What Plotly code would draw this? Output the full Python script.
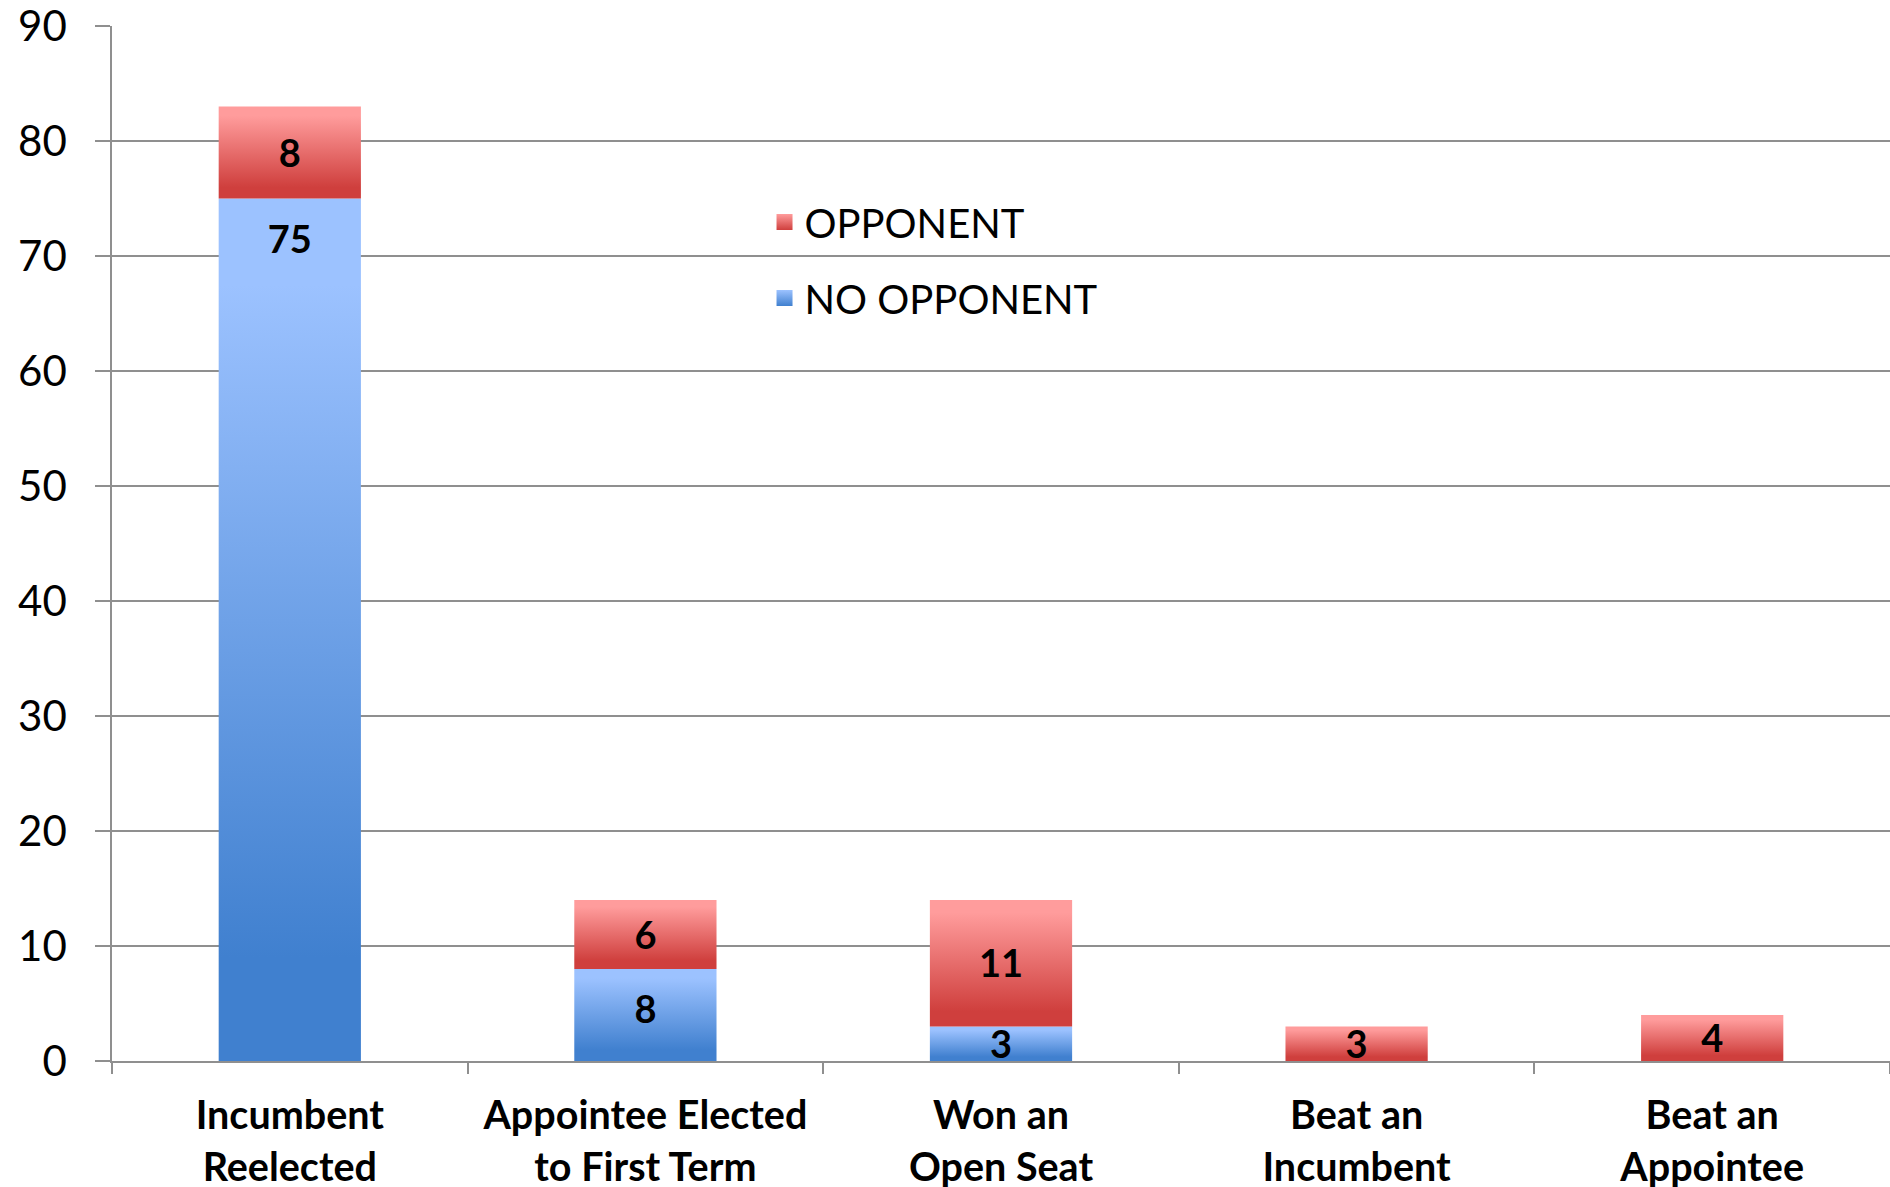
import plotly.graph_objects as go

# ---- data ----
categories = [
    "Incumbent<br>Reelected",
    "Appointee Elected<br>to First Term",
    "Won an<br>Open Seat",
    "Beat an<br>Incumbent",
    "Beat an<br>Appointee",
]
no_opponent = [75, 8, 3, 0, 0]
opponent = [8, 6, 11, 3, 4]
y_tick_values = [0, 10, 20, 30, 40, 50, 60, 70, 80, 90]

# ---- style ----
BAR_WIDTH = 0.40
LABEL_INSET = 3.5          # "inside end" label offset, axis units
LABEL_NUDGE = 0.4          # optical centring of bold digits, axis units
GRID = "#8f8f8f"
FONT = "Lato"
RED_LIGHT, RED_DARK = "#ff9c9c", "#cf3f3d"
BLUE_LIGHT, BLUE_DARK = "#9cc2ff", "#4080cf"


def grad(dark, light):
    return [[0, dark], [0.12, dark], [0.9, light], [1, light]]


fig = go.Figure()
positions = list(range(len(categories)))


def add_segment(i, base, value, dark, light):
    x0, x1 = i - BAR_WIDTH / 2, i + BAR_WIDTH / 2
    top = base + value
    fig.add_trace(go.Scatter(
        x=[x0, x1, x1, x0, x0],
        y=[base, base, top, top, base],
        mode="lines", line=dict(width=0), fill="toself",
        fillcolor=dark,
        fillgradient=dict(type="vertical", colorscale=grad(dark, light)),
        showlegend=False, hoverinfo="skip",
    ))


blue_lx, blue_ly, blue_lt = [], [], []
red_lx, red_ly, red_lt = [], [], []
for i, (b, r) in enumerate(zip(no_opponent, opponent)):
    if b > 0:
        add_segment(i, 0, b, BLUE_DARK, BLUE_LIGHT)
        blue_lx.append(i)
        blue_ly.append(max(b / 2, b - LABEL_INSET) - LABEL_NUDGE)
        blue_lt.append(str(b))
    if r > 0:
        add_segment(i, b, r, RED_DARK, RED_LIGHT)
        red_lx.append(i)
        red_ly.append(b + r / 2 - LABEL_NUDGE)
        red_lt.append(str(r))

label_font = dict(family=FONT, size=38, color="black")
fig.add_trace(go.Scatter(x=blue_lx, y=blue_ly, text=[f"<b>{t}</b>" for t in blue_lt],
                         mode="text", textposition="middle center", textfont=label_font,
                         showlegend=False, hoverinfo="skip"))
fig.add_trace(go.Scatter(x=red_lx, y=red_ly, text=[f"<b>{t}</b>" for t in red_lt],
                         mode="text", textposition="middle center", textfont=label_font,
                         showlegend=False, hoverinfo="skip"))

# legend entries
fig.add_trace(go.Scatter(x=[None], y=[None], mode="markers", name="OPPONENT",
                         marker=dict(symbol="square", size=27, color=RED_LIGHT,
                                     gradient=dict(type="vertical", color=RED_DARK)),
                         legendgroup="opp"))
fig.add_trace(go.Scatter(x=[None], y=[None], mode="markers", name="NO OPPONENT",
                         marker=dict(symbol="square", size=27, color=BLUE_LIGHT,
                                     gradient=dict(type="vertical", color=BLUE_DARK)),
                         legendgroup="noopp"))

boundaries = [p - 0.5 for p in positions] + [positions[-1] + 0.5]

fig.update_layout(
    width=1890, height=1187,
    margin=dict(l=112, r=0, t=26, b=126),
    paper_bgcolor="white", plot_bgcolor="white",
    font=dict(family=FONT, color="black"),
    showlegend=True,
    legend=dict(x=0.367, y=0.842, xanchor="left", yanchor="top",
                font=dict(family=FONT, size=40, color="black"),
                bgcolor="rgba(0,0,0,0)", tracegroupgap=21, itemsizing="trace",
                traceorder="grouped"),
    xaxis=dict(
        range=[-0.5, len(categories) - 0.5],
        tickmode="array", tickvals=positions,
        ticktext=[f"<b>{c}</b>" for c in categories],
        tickfont=dict(family=FONT, size=39.5, color="black"),
        ticks="", showgrid=False, zeroline=False,
        showline=True, linecolor=GRID, linewidth=1.5,
        ticklabelstandoff=19, automargin=False, ticklabeloverflow="allow",
        minor=dict(tickmode="array", tickvals=boundaries, ticks="outside",
                   ticklen=11, tickwidth=1.5, tickcolor=GRID, showgrid=False),
    ),
    yaxis=dict(
        range=[0, 90], tickmode="array", tickvals=y_tick_values,
        tickfont=dict(family=FONT, size=42, color="black"),
        showgrid=True, gridcolor=GRID, gridwidth=1.5,
        zeroline=False, showline=True, linecolor=GRID, linewidth=1.5,
        ticks="outside", ticklen=15, tickwidth=1.5, tickcolor=GRID,
        ticklabelstandoff=20, automargin=False, ticklabeloverflow="allow",
    ),
)

fig.write_html("out.html")
